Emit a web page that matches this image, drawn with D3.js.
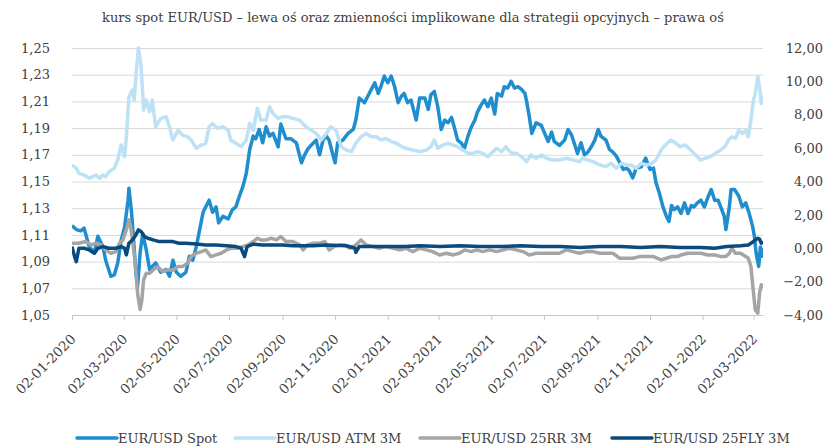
<html lang="pl">
<head>
<meta charset="UTF-8">
<title>EUR/USD</title>
<style>
  body { margin: 0; background: #fff; }
  text { font-family: "DejaVu Serif", "Liberation Serif", serif; fill: #404040; }
</style>
</head>
<body>
<div id="chart"></div>
<script src="https://d3js.org/d3.v7.min.js"></script>
<script>
// tick labels
const xTickLabels = ["02-01-2020", "02-03-2020", "02-05-2020", "02-07-2020", "02-09-2020", "02-11-2020",
  "02-01-2021", "02-03-2021", "02-05-2021", "02-07-2021", "02-09-2021", "02-11-2021", "02-01-2022", "02-03-2022"];
const leftTicks = [1.05, 1.07, 1.09, 1.11, 1.13, 1.15, 1.17, 1.19, 1.21, 1.23, 1.25];
const rightTicks = [-4, -2, 0, 2, 4, 6, 8, 10, 12];
const seriesNames = ["EUR/USD Spot", "EUR/USD ATM 3M", "EUR/USD 25RR 3M", "EUR/USD 25FLY 3M"];

// EUR/USD spot (left axis)
const spot = [
  ["2020-01-02",1.117],["2020-01-07",1.114],["2020-01-12",1.113],["2020-01-16",1.115],["2020-01-22",1.101],
  ["2020-01-28",1.097],["2020-02-01",1.109],["2020-02-07",1.101],["2020-02-10",1.091],["2020-02-16",1.079],
  ["2020-02-20",1.080],["2020-02-24",1.089],["2020-02-28",1.106],["2020-03-03",1.116],["2020-03-07",1.136],
  ["2020-03-08",1.145],["2020-03-11",1.127],["2020-03-14",1.101],["2020-03-16",1.082],["2020-03-18",1.071],
  ["2020-03-21",1.097],["2020-03-24",1.111],["2020-03-28",1.099],["2020-04-01",1.084],["2020-04-05",1.087],
  ["2020-04-08",1.089],["2020-04-14",1.082],["2020-04-20",1.084],["2020-04-24",1.079],["2020-04-28",1.091],
  ["2020-05-02",1.082],["2020-05-07",1.079],["2020-05-13",1.082],["2020-05-17",1.094],["2020-05-21",1.091],
  ["2020-05-25",1.101],["2020-05-29",1.114],["2020-06-02",1.127],["2020-06-05",1.131],["2020-06-09",1.136],
  ["2020-06-13",1.127],["2020-06-17",1.131],["2020-06-20",1.119],["2020-06-25",1.124],["2020-07-01",1.122],
  ["2020-07-06",1.129],["2020-07-10",1.131],["2020-07-14",1.139],["2020-07-18",1.146],["2020-07-22",1.156],
  ["2020-07-26",1.174],["2020-07-30",1.184],["2020-08-02",1.182],["2020-08-06",1.189],["2020-08-10",1.179],
  ["2020-08-14",1.191],["2020-08-18",1.184],["2020-08-22",1.186],["2020-08-28",1.176],["2020-08-31",1.193],
  ["2020-09-06",1.182],["2020-09-12",1.182],["2020-09-18",1.179],["2020-09-24",1.164],["2020-09-27",1.169],
  ["2020-10-01",1.174],["2020-10-05",1.177],["2020-10-11",1.181],["2020-10-15",1.170],["2020-10-19",1.181],
  ["2020-10-23",1.184],["2020-10-26",1.181],["2020-10-30",1.171],["2020-11-02",1.164],["2020-11-05",1.179],
  ["2020-11-11",1.181],["2020-11-17",1.186],["2020-11-23",1.189],["2020-11-26",1.196],["2020-11-30",1.2125],
  ["2020-12-06",1.209],["2020-12-10",1.214],["2020-12-14",1.219],["2020-12-18",1.224],["2020-12-22",1.216],
  ["2020-12-25",1.221],["2020-12-29",1.229],["2021-01-02",1.224],["2021-01-06",1.229],["2021-01-10",1.221],
  ["2021-01-14",1.209],["2021-01-18",1.214],["2021-01-21",1.216],["2021-01-25",1.209],["2021-01-29",1.211],
  ["2021-02-04",1.196],["2021-02-08",1.2125],["2021-02-14",1.2125],["2021-02-18",1.204],["2021-02-21",1.215],
  ["2021-02-25",1.2175],["2021-03-01",1.206],["2021-03-05",1.189],["2021-03-09",1.196],["2021-03-13",1.194],
  ["2021-03-17",1.198],["2021-03-20",1.191],["2021-03-24",1.181],["2021-03-28",1.179],["2021-04-01",1.175],
  ["2021-04-05",1.184],["2021-04-09",1.191],["2021-04-13",1.196],["2021-04-16",1.202],["2021-04-20",1.207],
  ["2021-04-24",1.211],["2021-04-28",1.206],["2021-05-02",1.2125],["2021-05-06",1.2005],["2021-05-09",1.216],
  ["2021-05-14",1.214],["2021-05-17",1.221],["2021-05-21",1.220],["2021-05-25",1.225],["2021-05-29",1.220],
  ["2021-06-02",1.221],["2021-06-06",1.219],["2021-06-10",1.216],["2021-06-12",1.210],["2021-06-15",1.199],
  ["2021-06-18",1.186],["2021-06-23",1.194],["2021-06-29",1.192],["2021-07-03",1.186],["2021-07-07",1.180],
  ["2021-07-11",1.187],["2021-07-14",1.180],["2021-07-20",1.177],["2021-07-26",1.181],["2021-07-30",1.189],
  ["2021-08-03",1.185],["2021-08-06",1.179],["2021-08-10",1.171],["2021-08-14",1.179],["2021-08-18",1.170],
  ["2021-08-22",1.172],["2021-08-26",1.176],["2021-08-30",1.181],["2021-09-03",1.189],["2021-09-06",1.184],
  ["2021-09-12",1.181],["2021-09-16",1.174],["2021-09-20",1.172],["2021-09-24",1.169],["2021-09-28",1.164],
  ["2021-10-02",1.159],["2021-10-06",1.160],["2021-10-09",1.158],["2021-10-13",1.1526],["2021-10-17",1.160],
  ["2021-10-23",1.161],["2021-10-28",1.1676],["2021-11-02",1.159],["2021-11-06",1.160],["2021-11-09",1.149],
  ["2021-11-13",1.141],["2021-11-17",1.131],["2021-11-21",1.124],["2021-11-24",1.120],["2021-11-27",1.132],
  ["2021-11-30",1.129],["2021-12-04",1.131],["2021-12-08",1.126],["2021-12-12",1.134],["2021-12-16",1.126],
  ["2021-12-20",1.132],["2021-12-23",1.131],["2021-12-27",1.134],["2021-12-31",1.136],["2022-01-04",1.131],
  ["2022-01-08",1.138],["2022-01-12",1.144],["2022-01-16",1.136],["2022-01-20",1.136],["2022-01-23",1.131],
  ["2022-01-27",1.124],["2022-01-29",1.114],["2022-02-02",1.131],["2022-02-04",1.144],["2022-02-08",1.144],
  ["2022-02-13",1.139],["2022-02-17",1.131],["2022-02-21",1.134],["2022-02-25",1.126],["2022-03-01",1.1164],
  ["2022-03-03",1.109],["2022-03-05",1.0965],["2022-03-08",1.0864],["2022-03-10",1.101],["2022-03-12",1.094],
  ["2022-03-13",1.100]
];

// ATM 3M implied vol (right axis)
const atm = [
  ["2020-01-02",4.99],["2020-01-07",4.80],["2020-01-10",4.49],["2020-01-16",4.39],["2020-01-22",4.19],
  ["2020-01-26",4.29],["2020-01-30",4.39],["2020-02-03",4.19],["2020-02-07",4.39],["2020-02-10",4.29],
  ["2020-02-14",4.59],["2020-02-20",4.79],["2020-02-24",5.29],["2020-02-28",6.19],["2020-03-03",5.49],
  ["2020-03-05",6.68],["2020-03-08",9.08],["2020-03-12",9.48],["2020-03-14",8.88],["2020-03-17",10.87],
  ["2020-03-19",12.0],["2020-03-22",11.0],["2020-03-25",8.28],["2020-03-28",8.88],["2020-04-01",8.18],
  ["2020-04-04",8.88],["2020-04-08",7.28],["2020-04-14",7.78],["2020-04-20",7.88],["2020-04-24",7.28],
  ["2020-04-28",6.49],["2020-05-04",7.08],["2020-05-09",6.78],["2020-05-15",6.68],["2020-05-19",6.49],
  ["2020-05-25",5.99],["2020-05-31",6.19],["2020-06-05",6.29],["2020-06-09",7.28],["2020-06-13",7.48],
  ["2020-06-19",7.18],["2020-06-25",7.28],["2020-07-01",7.08],["2020-07-04",6.49],["2020-07-10",6.29],
  ["2020-07-16",6.09],["2020-07-22",6.49],["2020-07-26",7.48],["2020-07-30",7.08],["2020-08-04",8.38],
  ["2020-08-08",7.68],["2020-08-14",7.68],["2020-08-18",8.48],["2020-08-22",8.08],["2020-08-28",7.78],
  ["2020-09-02",7.88],["2020-09-08",7.88],["2020-09-14",7.78],["2020-09-22",7.68],["2020-09-29",7.28],
  ["2020-10-05",7.08],["2020-10-11",6.88],["2020-10-17",6.49],["2020-10-23",6.88],["2020-10-28",7.28],
  ["2020-11-03",7.08],["2020-11-09",6.09],["2020-11-15",5.89],["2020-11-21",5.79],["2020-11-26",6.29],
  ["2020-12-02",6.68],["2020-12-08",6.88],["2020-12-14",6.68],["2020-12-20",6.68],["2020-12-25",6.49],
  ["2020-12-31",6.58],["2021-01-06",6.39],["2021-01-12",6.29],["2021-01-18",6.09],["2021-01-23",5.99],
  ["2021-01-31",5.89],["2021-02-08",5.79],["2021-02-16",5.89],["2021-02-21",6.09],["2021-02-25",6.49],
  ["2021-03-01",5.99],["2021-03-07",6.19],["2021-03-13",6.29],["2021-03-18",6.19],["2021-03-24",6.09],
  ["2021-03-30",5.89],["2021-04-05",5.69],["2021-04-11",5.69],["2021-04-16",5.79],["2021-04-22",5.69],
  ["2021-04-28",5.49],["2021-05-04",5.79],["2021-05-08",5.99],["2021-05-14",5.79],["2021-05-19",6.09],
  ["2021-05-25",5.69],["2021-05-31",5.69],["2021-06-06",5.49],["2021-06-12",5.19],["2021-06-17",5.59],
  ["2021-06-23",5.39],["2021-06-29",5.59],["2021-07-05",5.39],["2021-07-12",5.29],["2021-07-20",5.29],
  ["2021-07-28",5.39],["2021-08-05",5.29],["2021-08-12",5.19],["2021-08-16",5.39],["2021-08-22",5.29],
  ["2021-08-28",5.19],["2021-09-05",4.99],["2021-09-12",4.89],["2021-09-18",5.09],["2021-09-24",4.79],
  ["2021-09-30",5.09],["2021-10-06",4.99],["2021-10-11",4.99],["2021-10-17",4.79],["2021-10-23",5.09],
  ["2021-10-29",4.99],["2021-11-04",5.09],["2021-11-09",5.29],["2021-11-15",5.90],["2021-11-20",6.19],
  ["2021-11-26",6.49],["2021-12-02",6.29],["2021-12-07",6.09],["2021-12-13",6.19],["2021-12-19",5.89],
  ["2021-12-25",5.59],["2021-12-30",5.29],["2022-01-05",5.39],["2022-01-11",5.49],["2022-01-17",5.69],
  ["2022-01-23",5.89],["2022-01-28",6.09],["2022-02-01",6.49],["2022-02-05",6.68],["2022-02-09",6.58],
  ["2022-02-13",7.08],["2022-02-17",6.88],["2022-02-21",7.08],["2022-02-24",6.68],["2022-02-27",7.68],
  ["2022-03-02",8.88],["2022-03-04",9.28],["2022-03-07",10.28],["2022-03-09",9.68],["2022-03-11",8.68],
  ["2022-03-13",9.20]
];

// 25 delta risk reversal 3M (right axis)
const rr = [
  ["2020-01-02",0.30],["2020-01-10",0.30],["2020-01-18",0.40],["2020-01-24",0.20],["2020-01-30",0.30],
  ["2020-02-05",0.20],["2020-02-10",-0.10],["2020-02-16",-0.30],["2020-02-22",-0.20],["2020-02-26",0.30],
  ["2020-03-01",0.50],["2020-03-05",1.10],["2020-03-08",1.70],["2020-03-10",1.30],["2020-03-12",0.50],
  ["2020-03-14",-0.30],["2020-03-16",-1.30],["2020-03-18",-2.69],["2020-03-21",-3.67],["2020-03-23",-3.09],
  ["2020-03-25",-1.90],["2020-03-28",-1.50],["2020-04-01",-1.50],["2020-04-05",-1.30],["2020-04-10",-1.10],
  ["2020-04-16",-1.40],["2020-04-22",-1.30],["2020-04-28",-1.30],["2020-05-04",-1.10],["2020-05-09",-1.10],
  ["2020-05-15",-0.90],["2020-05-19",-0.50],["2020-05-25",-0.30],["2020-05-31",-0.20],["2020-06-05",-0.10],
  ["2020-06-11",-0.50],["2020-06-17",-0.40],["2020-06-23",-0.30],["2020-06-29",-0.10],["2020-07-04",0.00],
  ["2020-07-10",0.00],["2020-07-18",0.10],["2020-07-24",0.20],["2020-07-30",0.40],["2020-08-04",0.60],
  ["2020-08-08",0.50],["2020-08-14",0.50],["2020-08-20",0.60],["2020-08-26",0.50],["2020-08-31",0.70],
  ["2020-09-06",0.40],["2020-09-14",0.40],["2020-09-22",0.20],["2020-09-26",-0.10],["2020-10-01",0.20],
  ["2020-10-07",0.30],["2020-10-15",0.30],["2020-10-21",0.40],["2020-10-26",-0.10],["2020-11-01",0.10],
  ["2020-11-07",0.20],["2020-11-13",0.20],["2020-11-19",0.00],["2020-11-26",0.20],["2020-12-02",0.50],
  ["2020-12-08",0.20],["2020-12-16",0.10],["2020-12-23",0.00],["2020-12-31",0.10],["2021-01-08",0.00],
  ["2021-01-16",-0.10],["2021-01-23",0.00],["2021-01-31",-0.20],["2021-02-08",0.00],["2021-02-16",-0.10],
  ["2021-02-23",-0.20],["2021-03-03",-0.40],["2021-03-11",-0.30],["2021-03-19",-0.40],["2021-03-26",-0.30],
  ["2021-04-01",-0.10],["2021-04-09",-0.20],["2021-04-15",-0.10],["2021-04-22",-0.20],["2021-04-30",-0.10],
  ["2021-05-08",-0.20],["2021-05-16",-0.10],["2021-05-23",0.00],["2021-05-31",-0.10],["2021-06-08",-0.20],
  ["2021-06-15",-0.40],["2021-06-23",-0.30],["2021-07-01",-0.30],["2021-07-11",-0.30],["2021-07-20",-0.30],
  ["2021-07-28",-0.10],["2021-08-05",-0.20],["2021-08-12",-0.30],["2021-08-20",-0.20],["2021-08-28",-0.20],
  ["2021-09-05",-0.30],["2021-09-12",-0.30],["2021-09-20",-0.30],["2021-09-28",-0.60],["2021-10-06",-0.60],
  ["2021-10-13",-0.60],["2021-10-21",-0.50],["2021-10-29",-0.50],["2021-11-06",-0.50],["2021-11-15",-0.70],
  ["2021-11-21",-0.60],["2021-11-27",-0.50],["2021-12-04",-0.50],["2021-12-08",-0.40],["2021-12-16",-0.30],
  ["2021-12-23",-0.30],["2021-12-31",-0.30],["2022-01-08",-0.40],["2022-01-16",-0.40],["2022-01-23",-0.50],
  ["2022-01-29",-0.50],["2022-02-02",-0.30],["2022-02-05",0.00],["2022-02-09",-0.30],["2022-02-15",-0.30],
  ["2022-02-21",-0.50],["2022-02-24",-0.60],["2022-02-27",-1.10],["2022-03-02",-2.69],["2022-03-04",-3.69],
  ["2022-03-07",-3.89],["2022-03-09",-2.69],["2022-03-11",-2.19],["2022-03-13",-2.39]
];

// 25 delta butterfly 3M (right axis)
const fly = [
  ["2020-01-02",0.10],["2020-01-05",-0.50],["2020-01-07",-0.80],["2020-01-10",0.00],["2020-01-16",0.00],
  ["2020-01-22",-0.10],["2020-01-28",-0.30],["2020-02-01",0.00],["2020-02-07",0.10],["2020-02-14",0.00],
  ["2020-02-22",0.00],["2020-02-28",0.10],["2020-03-03",0.00],["2020-03-05",-0.40],["2020-03-08",0.30],
  ["2020-03-12",0.50],["2020-03-16",0.80],["2020-03-19",1.10],["2020-03-22",1.00],["2020-03-26",0.70],
  ["2020-03-30",0.60],["2020-04-05",0.50],["2020-04-12",0.40],["2020-04-20",0.40],["2020-04-28",0.40],
  ["2020-05-05",0.30],["2020-05-13",0.30],["2020-05-25",0.25],["2020-06-05",0.20],["2020-06-17",0.20],
  ["2020-06-29",0.15],["2020-07-10",0.10],["2020-07-16",0.00],["2020-07-20",-0.50],["2020-07-23",0.10],
  ["2020-07-30",0.25],["2020-08-10",0.20],["2020-08-22",0.20],["2020-09-02",0.20],["2020-09-14",0.15],
  ["2020-09-26",0.15],["2020-10-07",0.15],["2020-10-23",0.20],["2020-11-15",0.15],["2020-11-25",0.00],
  ["2020-11-26",-0.25],["2020-11-30",0.10],["2020-12-16",0.10],["2021-01-04",0.10],["2021-01-23",0.10],
  ["2021-02-08",0.15],["2021-03-04",0.10],["2021-03-27",0.15],["2021-04-19",0.10],["2021-05-13",0.10],
  ["2021-06-05",0.15],["2021-06-28",0.10],["2021-07-21",0.10],["2021-08-13",0.05],["2021-09-05",0.10],
  ["2021-09-29",0.10],["2021-10-22",0.05],["2021-11-14",0.10],["2021-12-07",0.05],["2021-12-31",0.05],
  ["2022-01-16",0.00],["2022-01-30",0.10],["2022-02-15",0.15],["2022-02-24",0.20],["2022-03-02",0.40],
  ["2022-03-04",0.50],["2022-03-07",0.60],["2022-03-09",0.55],["2022-03-11",0.30],["2022-03-13",0.40]
];

const colors = ["#1f8ece", "#bde2f6", "#a5a5a5", "#0b4a7e"];

const W = 826, H = 447;
const margin = { left: 72, right: 63, top: 48, bottom: 132 };
const parseDay = d3.timeParse("%Y-%m-%d");
const parseTick = d3.timeParse("%d-%m-%Y");
const pl = d3.formatLocale({ decimal: ",", thousands: " ", grouping: [3], currency: ["", " zł"] });

const svg = d3.select("#chart").append("svg")
  .attr("width", W)
  .attr("height", H);

const x = d3.scaleTime()
  .domain([parseDay("2020-01-02"), parseDay("2022-03-13")])
  .range([margin.left, W - margin.right]);
const yL = d3.scaleLinear().domain([1.05, 1.25]).range([H - margin.bottom, margin.top]);
const yR = d3.scaleLinear().domain([-4, 12]).range([H - margin.bottom, margin.top]);

// title
svg.append("text")
  .attr("x", 413)
  .attr("y", 22)
  .attr("text-anchor", "middle")
  .style("font-size", "13px")
  .text("kurs spot EUR/USD – lewa oś oraz zmienności implikowane dla strategii opcyjnych – prawa oś");

// left axis with gridlines
const gL = svg.append("g")
  .attr("transform", "translate(" + margin.left + ",0)")
  .call(d3.axisLeft(yL).tickValues(leftTicks).tickSize(-(W - margin.left - margin.right)).tickFormat(pl.format(".2f")));
gL.select(".domain").remove();
gL.selectAll("line").attr("stroke", "#d9d9d9");
gL.selectAll("text").attr("x", -22).style("font-size", "13px");

// right axis
const gR = svg.append("g")
  .attr("transform", "translate(" + (W - margin.right) + ",0)")
  .call(d3.axisRight(yR).tickValues(rightTicks).tickSize(0).tickFormat(pl.format(".2f")));
gR.select(".domain").remove();
gR.selectAll("text").attr("x", 60).attr("text-anchor", "end").style("font-size", "13px");

// bottom axis
const gX = svg.append("g")
  .attr("transform", "translate(0," + (H - margin.bottom) + ")")
  .call(d3.axisBottom(x).tickValues(xTickLabels.map(parseTick)).tickSize(5).tickSizeOuter(0)
    .tickFormat(d3.timeFormat("%d-%m-%Y")));
gX.select(".domain").attr("stroke", "#c8c8c8");
gX.selectAll("line").attr("stroke", "#c8c8c8");
gX.selectAll("text")
  .attr("y", 0)
  .attr("dy", 0)
  .attr("transform", "translate(4,25) rotate(-45)")
  .attr("text-anchor", "end")
  .style("font-size", "13.5px");

svg.append("clipPath").attr("id", "clip")
  .append("rect").attr("x", margin.left).attr("y", margin.top - 3)
  .attr("width", W - margin.left - margin.right).attr("height", H - margin.top - margin.bottom + 3);

const lineL = d3.line().x(d => x(parseDay(d[0]))).y(d => yL(d[1]));
const lineR = d3.line().x(d => x(parseDay(d[0]))).y(d => yR(d[1]));

const plot = svg.append("g").attr("clip-path", "url(#clip)");
[[spot, lineL], [atm, lineR], [rr, lineR], [fly, lineR]].forEach((s, i) => {
  plot.append("path")
    .datum(s[0])
    .attr("fill", "none")
    .attr("stroke", colors[i])
    .attr("stroke-width", 3.5)
    .attr("stroke-linejoin", "round")
    .attr("d", s[1]);
});

// legend
const legendX = [77, 235, 420, 612];
const legend = svg.append("g");
seriesNames.forEach((name, i) => {
  legend.append("line")
    .attr("x1", legendX[i]).attr("x2", legendX[i] + 40)
    .attr("y1", 438).attr("y2", 438)
    .attr("stroke", colors[i]).attr("stroke-width", 3.5).attr("stroke-linecap", "round");
  legend.append("text")
    .attr("x", legendX[i] + 41).attr("y", 443)
    .style("font-size", "13px")
    .text(name);
});
</script>
</body>
</html>
